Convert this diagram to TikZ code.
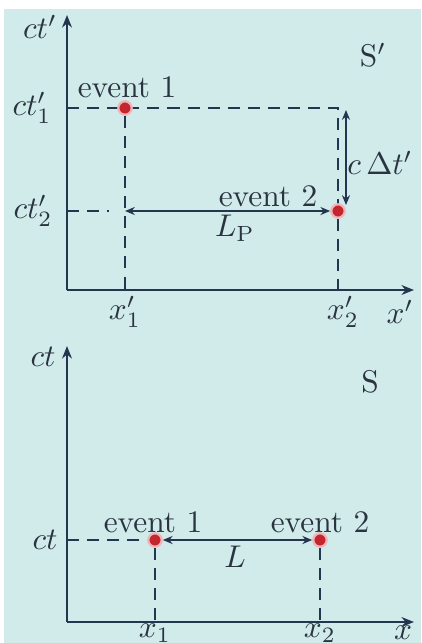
\documentclass[tikz,border=0pt]{standalone}
\usetikzlibrary{arrows.meta,backgrounds}
\definecolor{PanelBg}{HTML}{D0EBEA}
\definecolor{AxisInk}{HTML}{24364F}
\definecolor{LabelInk}{HTML}{2A3340}
\definecolor{EventRed}{HTML}{C4262E}
\definecolor{EventGlow}{HTML}{F0B4B8}
\tikzset{
  every node/.style={text=LabelInk, inner sep=1pt},
  axis/.style={-{Stealth[length=1.4mm,width=1.1mm]}, draw=AxisInk, line width=0.65pt},
  guide/.style={draw=AxisInk, line width=0.5pt, dash pattern=on 1.35mm off 0.9mm},
  span/.style={{Stealth[length=1.1mm,width=0.9mm]}-{Stealth[length=1.1mm,width=0.9mm]}, draw=AxisInk, line width=0.5pt},
  event/.style={circle, fill=EventRed, draw=EventGlow, line width=0.7pt, inner sep=0pt, minimum size=1.5mm},
}

\begin{document}
\begin{tikzpicture}[x=0.112mm, y=-0.112mm]
  \useasboundingbox (0,0) rectangle (421,643);
  % Frame S': axes, events and labels
  \coordinate (oP) at (67,290);
  \coordinate (ctP) at (67,15);
  \coordinate (xP) at (414,290);
  \node[event] (e1P) at (125,108) {};
  \node[event] (e2P) at (338,211) {};
  \coordinate (t2Pend) at (109,211);
  \coordinate (dtTop) at (346,110);
  \coordinate (dtBot) at (346,205);
  \node (ctPlab) at (40,27) {$ct'$};
  \node (sPlab) at (373,55) {$\mathrm{S}'$};
  \node (t1Plab) at (32,108) {$ct_1'$};
  \node (t2Plab) at (33,211) {$ct_2'$};
  \node (ev1Plab) at (127,87) {event 1};
  \node (ev2Plab) at (268,196) {event 2};
  \node (lpLab) at (235,228) {$L_{\mathrm{P}}$};
  \node (dtLab) at (380,163) {$c\,\Delta t'$};
  \node (x1Plab) at (125,312) {$x_1'$};
  \node (x2Plab) at (343,312) {$x_2'$};
  \node (xPlab) at (400,312) {$x'$};
  % Frame S: axes, events and labels
  \coordinate (oS) at (67,622);
  \coordinate (ctS) at (67,346);
  \coordinate (xS) at (414,622);
  \node[event] (e1S) at (155,540) {};
  \node[event] (e2S) at (320,540) {};
  \node (ctSlab) at (43,357) {$ct$};
  \node (sSlab) at (370,382) {$\mathrm{S}$};
  \node (tSlab) at (45,540) {$ct$};
  \node (ev1Slab) at (153,522) {event 1};
  \node (ev2Slab) at (320,522) {event 2};
  \node (lLab) at (235,557) {$L$};
  \node (x1Slab) at (155,633) {$x_1$};
  \node (x2Slab) at (320,633) {$x_2$};
  \node (xSlab) at (403,633) {$x$};
  \begin{scope}[on background layer]
    \fill[white] (0,0) rectangle (421,643);
    \fill[PanelBg] (4,9) rectangle (421,643);
    % S' lines
    \draw[axis] (oP) -- (ctP);
    \draw[axis] (oP) -- (xP);
    \draw[guide] (oP |- e1P) -- (e1P -| e2P) -- (e2P |- oP);
    \draw[guide] (e1P) -- (e1P |- oP);
    \draw[guide] (oP |- e2P) -- (t2Pend);
    \draw[span] (e1P |- e2P) -- (e2P);
    \draw[span] (dtTop) -- (dtBot);
    % S lines
    \draw[axis] (oS) -- (ctS);
    \draw[axis] (oS) -- (xS);
    \draw[guide] (oS |- e1S) -- (e1S);
    \draw[guide] (e1S) -- (e1S |- oS);
    \draw[guide] (e2S) -- (e2S |- oS);
    \draw[span] (e1S) -- (e2S);
  \end{scope}
\end{tikzpicture}
\end{document}
